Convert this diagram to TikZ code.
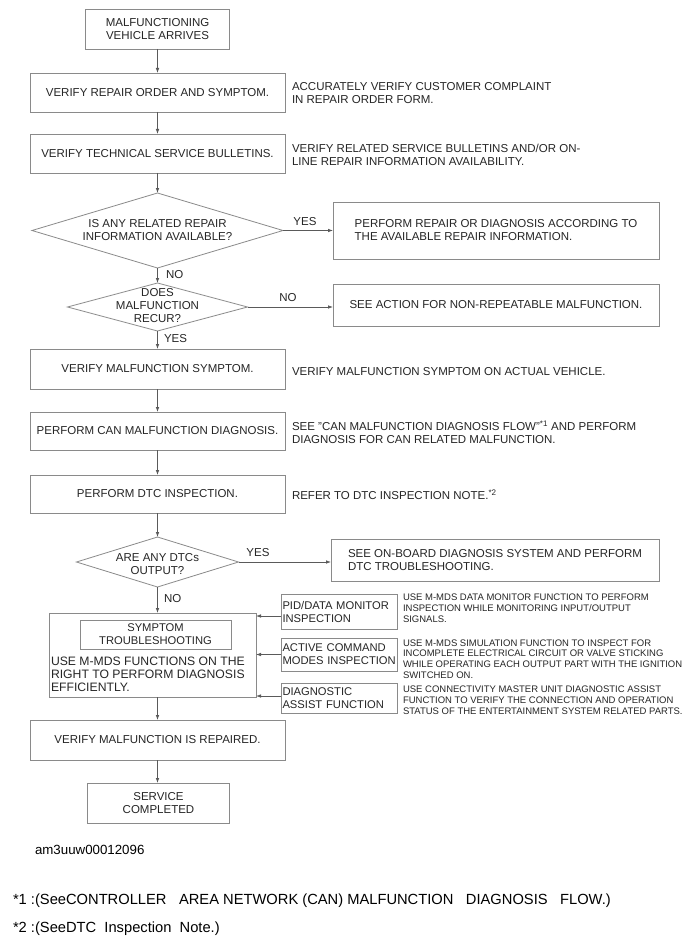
\documentclass[tikz,border=0pt]{standalone}
\usepackage{fontspec}
\setmainfont{Liberation Sans}
\usetikzlibrary{shapes.geometric,arrows.meta}
\definecolor{boxc}{HTML}{8A8A8A}
\definecolor{linec}{HTML}{5A5A5A}
\definecolor{txtc}{HTML}{262626}
\begin{document}
\begin{tikzpicture}[x=1pt,y=-1pt,
  every node/.style={inner sep=0pt,outer sep=0pt,text=txtc},
  mainfont/.style={font=\fontsize{11.5}{13}\selectfont},
  bigfont/.style={font=\fontsize{12.2}{13}\selectfont},
  sbfont/.style={font=\fontsize{11.2}{13}\selectfont},
  smallfont/.style={font=\fontsize{9.5}{10.8}\selectfont},
  box/.style={draw=boxc,line width=0.8pt,rectangle,mainfont,align=center},
  sbox/.style={draw=boxc,line width=0.8pt,rectangle,sbfont,align=left,text width=113pt,inner xsep=1.5pt,minimum width=116pt},
  dia/.style={draw=boxc,line width=0.8pt,diamond},
  side/.style={mainfont,anchor=west,align=left},
  sside/.style={smallfont,anchor=west,align=left},
  lbl/.style={mainfont},
  foot/.style={anchor=west,text=black},
  conn/.style={draw=linec,line width=0.8pt,-{Latex[length=5pt,width=3.6pt]}}
]
\useasboundingbox[fill=white] (0,0) rectangle (689,952);

% main column
\node[box,minimum width=144pt,minimum height=40pt] (b1) at (157.5,29) {MALFUNCTIONING\\VEHICLE ARRIVES};
\node[box,minimum width=255pt,minimum height=39pt] (b2) at (157.5,92.5) {VERIFY REPAIR ORDER AND SYMPTOM.};
\node[side] (t2) at (292,93.5) {ACCURATELY VERIFY CUSTOMER COMPLAINT\\IN REPAIR ORDER FORM.};
\node[box,minimum width=255pt,minimum height=39pt] (b3) at (157.5,153.5) {VERIFY TECHNICAL SERVICE BULLETINS.};
\node[side] (t3) at (292,154.5) {VERIFY RELATED SERVICE BULLETINS AND/OR ON-\\LINE REPAIR INFORMATION AVAILABILITY.};

\node[dia,minimum width=251pt,minimum height=75pt] (d1) at (157.5,230.5) {};
\node[mainfont,align=center] (d1t) at (d1.center) {IS ANY RELATED REPAIR\\INFORMATION AVAILABLE?};
\node[box,minimum width=326pt,minimum height=57pt,align=left] (b4) at (496,230.5) {PERFORM REPAIR OR DIAGNOSIS ACCORDING TO\\THE AVAILABLE REPAIR INFORMATION.};
\node[lbl] (yes1) at (305,222) {YES};
\node[lbl,anchor=west] (no1) at (166,275) {NO};

\node[dia,minimum width=180pt,minimum height=48pt] (d2) at (157.5,307) {};
\node[mainfont,align=center] (d2t) at (157.5,306) {DOES\\MALFUNCTION\\RECUR?};
\node[box,minimum width=326pt,minimum height=42pt] (b5) at (496,305) {SEE ACTION FOR NON-REPEATABLE MALFUNCTION.};
\node[lbl] (no2) at (288,298) {NO};
\node[lbl,anchor=west] (yes2) at (164,339) {YES};

\node[box,minimum width=255pt,minimum height=40pt] (b6) at (157.5,369) {VERIFY MALFUNCTION SYMPTOM.};
\node[side] (t6) at (292,372) {VERIFY MALFUNCTION SYMPTOM ON ACTUAL VEHICLE.};
\node[box,minimum width=255pt,minimum height=38pt] (b7) at (157.5,431) {PERFORM CAN MALFUNCTION DIAGNOSIS.};
\node[side] (t7) at (292,432) {SEE "CAN MALFUNCTION DIAGNOSIS FLOW"\textsuperscript{*1} AND PERFORM\\DIAGNOSIS FOR CAN RELATED MALFUNCTION.};
\node[box,minimum width=255pt,minimum height=38pt] (b8) at (157.5,494) {PERFORM DTC INSPECTION.};
\node[side] (t8) at (292,495) {REFER TO DTC INSPECTION NOTE.\textsuperscript{*2}};

\node[dia,minimum width=162pt,minimum height=50pt] (d3) at (157.5,562) {};
\node[mainfont,align=center] (d3t) at (157.5,564.5) {ARE ANY DTCs\\OUTPUT?};
\node[box,minimum width=328pt,minimum height=42pt,align=left] (b9) at (495,560) {SEE ON-BOARD DIAGNOSIS SYSTEM AND PERFORM\\DTC TROUBLESHOOTING.};
\node[lbl] (yes3) at (258,553) {YES};
\node[lbl,anchor=west] (no3) at (164,599) {NO};

% symptom troubleshooting block
\node[draw=boxc,line width=0.8pt,rectangle,minimum width=207pt,minimum height=84pt] (big) at (152.5,655) {};
\node[box,sbfont,minimum width=151pt,minimum height=29pt] (inner) at (155.5,634.5) {SYMPTOM\\TROUBLESHOOTING};
\node[bigfont,anchor=west,align=left] (bigt) at (51,674) {USE M-MDS FUNCTIONS ON THE\\RIGHT TO PERFORM DIAGNOSIS\\EFFICIENTLY.};

\node[sbox,minimum height=35pt] (s1) at (339,611.5) {PID/DATA MONITOR\\INSPECTION};
\node[sbox,minimum height=33pt] (s2) at (339,654.5) {ACTIVE COMMAND\\\mbox{MODES INSPECTION}};
\node[sbox,minimum height=30pt] (s3) at (339,698) {DIAGNOSTIC\\ASSIST FUNCTION};
\node[sside] (ss1) at (403,608) {USE M-MDS DATA MONITOR FUNCTION TO PERFORM\\INSPECTION WHILE MONITORING INPUT/OUTPUT\\SIGNALS.};
\node[sside] (ss2) at (403,659) {USE M-MDS SIMULATION FUNCTION TO INSPECT FOR\\INCOMPLETE ELECTRICAL CIRCUIT OR VALVE STICKING\\WHILE OPERATING EACH OUTPUT PART WITH THE IGNITION\\SWITCHED ON.};
\node[sside] (ss3) at (403,700) {USE CONNECTIVITY MASTER UNIT DIAGNOSTIC ASSIST\\FUNCTION TO VERIFY THE CONNECTION AND OPERATION\\STATUS OF THE ENTERTAINMENT SYSTEM RELATED PARTS.};

\node[box,minimum width=255pt,minimum height=40pt] (b10) at (157.5,740) {VERIFY MALFUNCTION IS REPAIRED.};
\node[box,minimum width=142pt,minimum height=40pt] (b11) at (158.5,803) {SERVICE\\COMPLETED};

% footer
\node[foot,font=\fontsize{13.3}{15}\selectfont] (code) at (35,850) {am3uuw00012096};
\node[foot,font=\fontsize{14.7}{17}\selectfont] (fn1) at (13,901) {*1 :(SeeCONTROLLER\hspace{12.5pt}AREA NETWORK (CAN) MALFUNCTION\hspace{12.5pt}DIAGNOSIS\hspace{12.5pt}FLOW.)};
\node[foot,font=\fontsize{14.7}{17}\selectfont] (fn2) at (13,929) {*2 :(SeeDTC\ \ Inspection\ \ Note.)};

% connectors
\draw[conn] (b1.south) -- (b1.south |- b2.north);
\draw[conn] (b2.south) -- (b2.south |- b3.north);
\draw[conn] (b3.south) -- (b3.south |- d1.north);
\draw[conn] (d1.east) -- (d1.east -| b4.west);
\draw[conn] (d1.south) -- (d2.north);
\draw[conn] (d2.east) -- (d2.east -| b5.west);
\draw[conn] (d2.south) -- (d2.south |- b6.north);
\draw[conn] (b6.south) -- (b6.south |- b7.north);
\draw[conn] (b7.south) -- (b7.south |- b8.north);
\draw[conn] (b8.south) -- (b8.south |- d3.north);
\draw[conn] (d3.east) -- (d3.east -| b9.west);
\draw[conn] (d3.south) -- (d3.south |- big.north);
\draw[conn] ([yshift=-4.5pt]s1.west) -- ([yshift=-4.5pt]s1.west -| big.east);
\draw[conn] (s2.west) -- (s2.west -| big.east);
\draw[conn] ([yshift=2pt]s3.west) -- ([yshift=2pt]s3.west -| big.east);
\draw[conn] (d3.south |- big.south) -- (d3.south |- b10.north);
\draw[conn] (b10.south) -- (b10.south |- b11.north);
\end{tikzpicture}
\end{document}
